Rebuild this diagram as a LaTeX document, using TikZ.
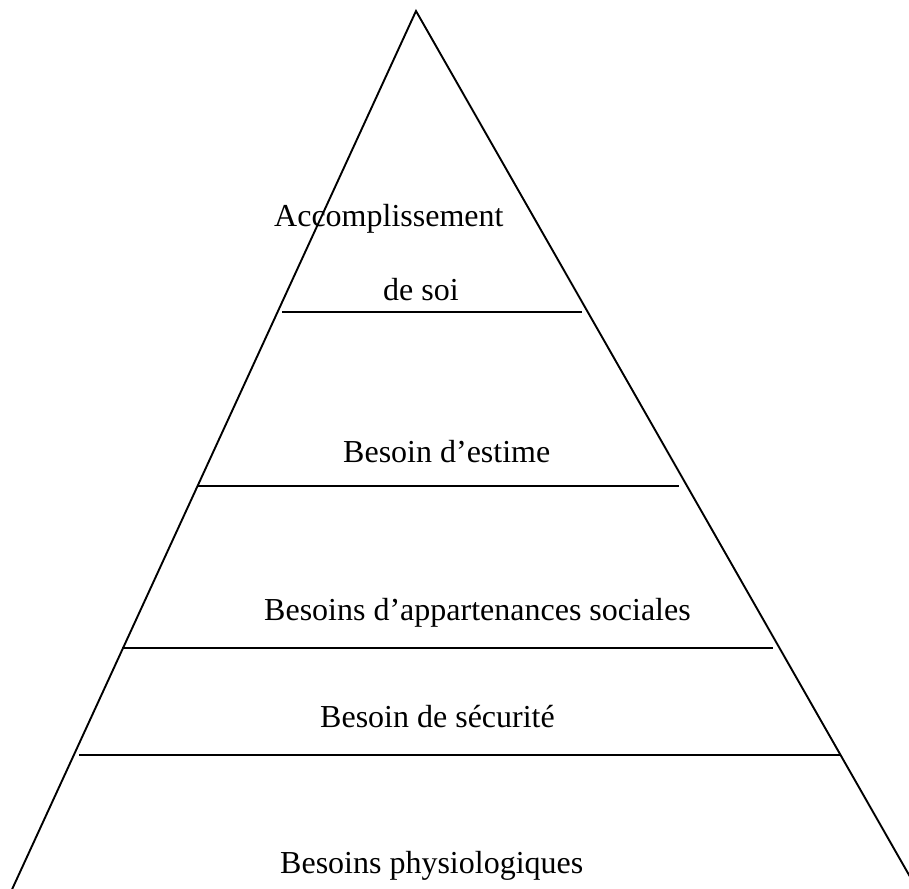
\documentclass[tikz,border=0pt]{standalone}
\usepackage{fontspec}
\setmainfont{Liberation Serif}
\begin{document}
\begin{tikzpicture}[x=1pt,y=-1pt,
  edge/.style={line width=1.9pt,line cap=round},
  level/.style={line width=1.9pt},
  label/.style={anchor=base west,inner sep=0pt,font=\fontsize{32}{38}\selectfont}]
  \useasboundingbox (0,0) rectangle (909,888);
  \clip (0,0) rectangle (909,888);
  % pyramid outline
  \coordinate (apex) at (416,11);
  \coordinate (baseL) at (9,896);
  \coordinate (baseR) at (921,896);
  \draw[edge] (baseL) -- (apex) -- (baseR);
  % level separators
  \coordinate (l1a) at (282,312); \coordinate (l1b) at (582,312);
  \coordinate (l2a) at (197,486); \coordinate (l2b) at (679,486);
  \coordinate (l3a) at (122,648); \coordinate (l3b) at (773,648);
  \coordinate (l4a) at (79,755);  \coordinate (l4b) at (841,755);
  \draw[level] (l1a) -- (l1b);
  \draw[level] (l2a) -- (l2b);
  \draw[level] (l3a) -- (l3b);
  \draw[level] (l4a) -- (l4b);
  % level labels
  \node[label] (t1) at (274,226) {Accomplissement};
  \node[label] (t2) at (383,300) {de soi};
  \node[label] (t3) at (343,462) {Besoin d’estime};
  \node[label] (t4) at (264,620) {Besoins d’appartenances sociales};
  \node[label] (t5) at (320,727) {Besoin de sécurité};
  \node[label] (t6) at (280,873) {Besoins physiologiques};
\end{tikzpicture}
\end{document}
